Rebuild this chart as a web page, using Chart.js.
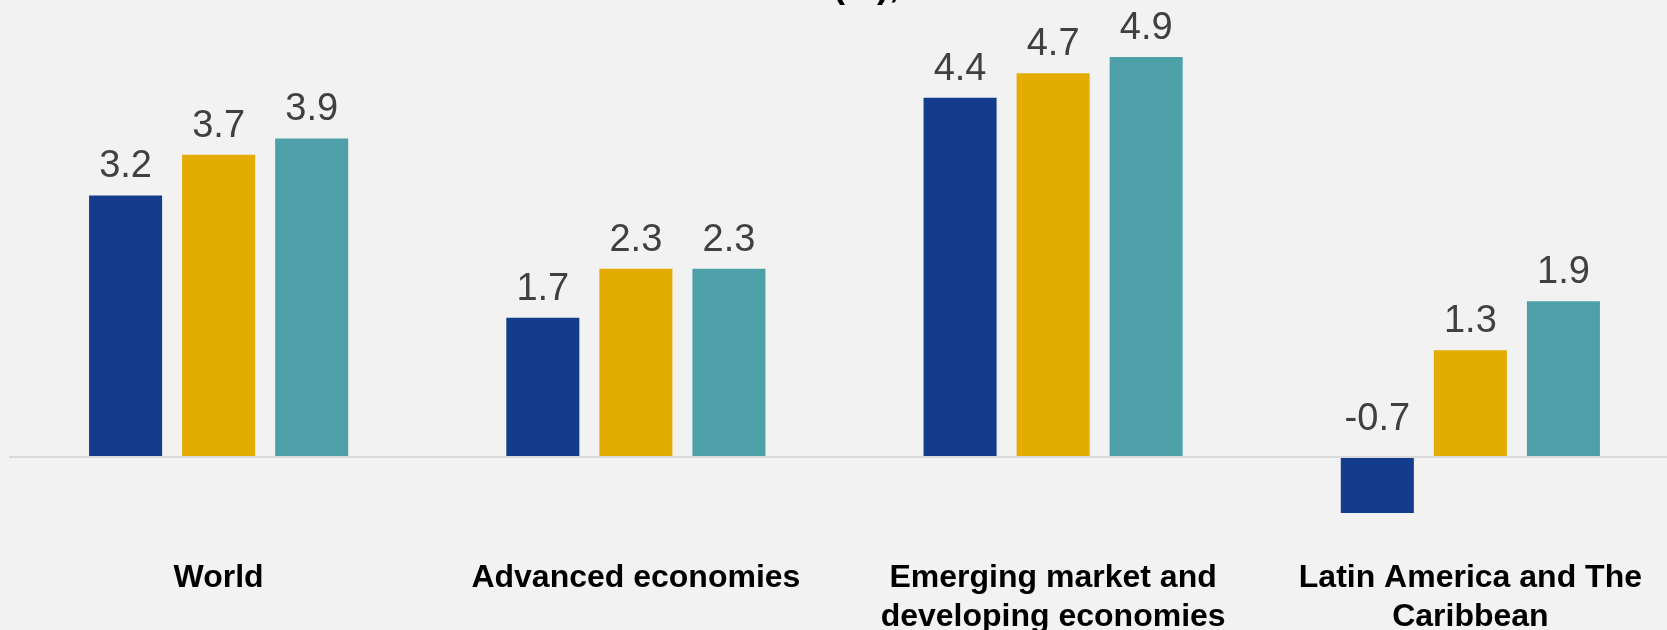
<!DOCTYPE html>
<html>
<head>
<meta charset="utf-8">
<script src="https://cdn.jsdelivr.net/npm/chart.js@4.4.0/dist/chart.umd.min.js"></script>
<style>
    html, body { margin: 0; padding: 0; background: #f2f2f2; overflow: hidden; }
    #wrap { width: 1680px; height: 640px; }
</style>
</head>
<body>
<div id="wrap"><canvas id="growthChart" width="1680" height="640"></canvas></div>
<script>
// ============================================
// DATA
// ============================================
const categories = [
    ['World'],
    ['Advanced economies'],
    ['Emerging market and', 'developing economies'],
    ['Latin America and The', 'Caribbean']
];
const seriesNames = ['Series 1', 'Series 2', 'Series 3'];
const series1 = [3.2, 1.7, 4.4, -0.7];
const series2 = [3.7, 2.3, 4.7, 1.3];
const series3 = [3.9, 2.3, 4.9, 1.9];
const seriesColors = ['#143c8c', '#e4ac00', '#4ea0a8'];
const yMin = -1.03;
const yMax = 5.6;

const FONT = '"Liberation Sans", Arial, sans-serif';

// zero baseline, drawn on top of the bars
const zeroLine = {
    id: 'zeroLine',
    afterDatasetsDraw(chart) {
        const ctx = chart.ctx;
        const y = chart.scales.y.getPixelForValue(0) + 1;
        ctx.save();
        ctx.strokeStyle = '#d9d9d9';
        ctx.lineWidth = 2;
        ctx.beginPath();
        ctx.moveTo(chart.chartArea.left - 1, y);
        ctx.lineTo(chart.width, y);
        ctx.stroke();
        ctx.restore();
    }
};

// value labels above each bar
const valueLabels = {
    id: 'valueLabels',
    afterDatasetsDraw(chart) {
        const ctx = chart.ctx;
        ctx.save();
        ctx.font = '38px ' + FONT;
        ctx.fillStyle = '#404040';
        ctx.textAlign = 'center';
        ctx.textBaseline = 'alphabetic';
        chart.data.datasets.forEach((ds, i) => {
            chart.getDatasetMeta(i).data.forEach((bar, j) => {
                const v = ds.data[j];
                const y = v >= 0 ? bar.y - 18 : bar.base - 26;
                ctx.fillText(v.toFixed(1), bar.x, y);
            });
        });
        ctx.restore();
    }
};

// the title sits mostly above the visible frame, only its bottom edge shows
const titleFragment = {
    id: 'titleFragment',
    afterDraw(chart) {
        const ctx = chart.ctx;
        ctx.save();
        ctx.font = 'bold 36px ' + FONT;
        ctx.fillStyle = '#000000';
        ctx.textAlign = 'left';
        ctx.textBaseline = 'alphabetic';
        ctx.fillText('(%),', 833, -3);
        ctx.restore();
    }
};

new Chart(document.getElementById('growthChart'), {
    type: 'bar',
    data: {
        labels: categories,
        datasets: [series1, series2, series3].map((d, i) => ({
            label: seriesNames[i],
            data: d,
            backgroundColor: seriesColors[i],
            borderWidth: 0
        }))
    },
    options: {
        responsive: false,
        animation: false,
        layout: { padding: { left: 10, right: 1, top: 0, bottom: 0 } },
        datasets: { bar: { categoryPercentage: 0.669, barPercentage: 0.785 } },
        plugins: {
            legend: { display: false },
            title: { display: false },
            tooltip: { enabled: false }
        },
        scales: {
            x: {
                grid: { display: false, drawTicks: false, tickLength: 0 },
                border: { display: false },
                ticks: {
                    color: '#000000',
                    font: { family: FONT, size: 32, weight: 'bold', lineHeight: 39 / 32 },
                    padding: 19,
                    maxRotation: 0,
                    autoSkip: false
                },
                afterFit(scale) { scale.height = 100; }
            },
            y: { display: false, min: yMin, max: yMax }
        }
    },
    plugins: [zeroLine, valueLabels, titleFragment]
});
</script>
</body>
</html>
